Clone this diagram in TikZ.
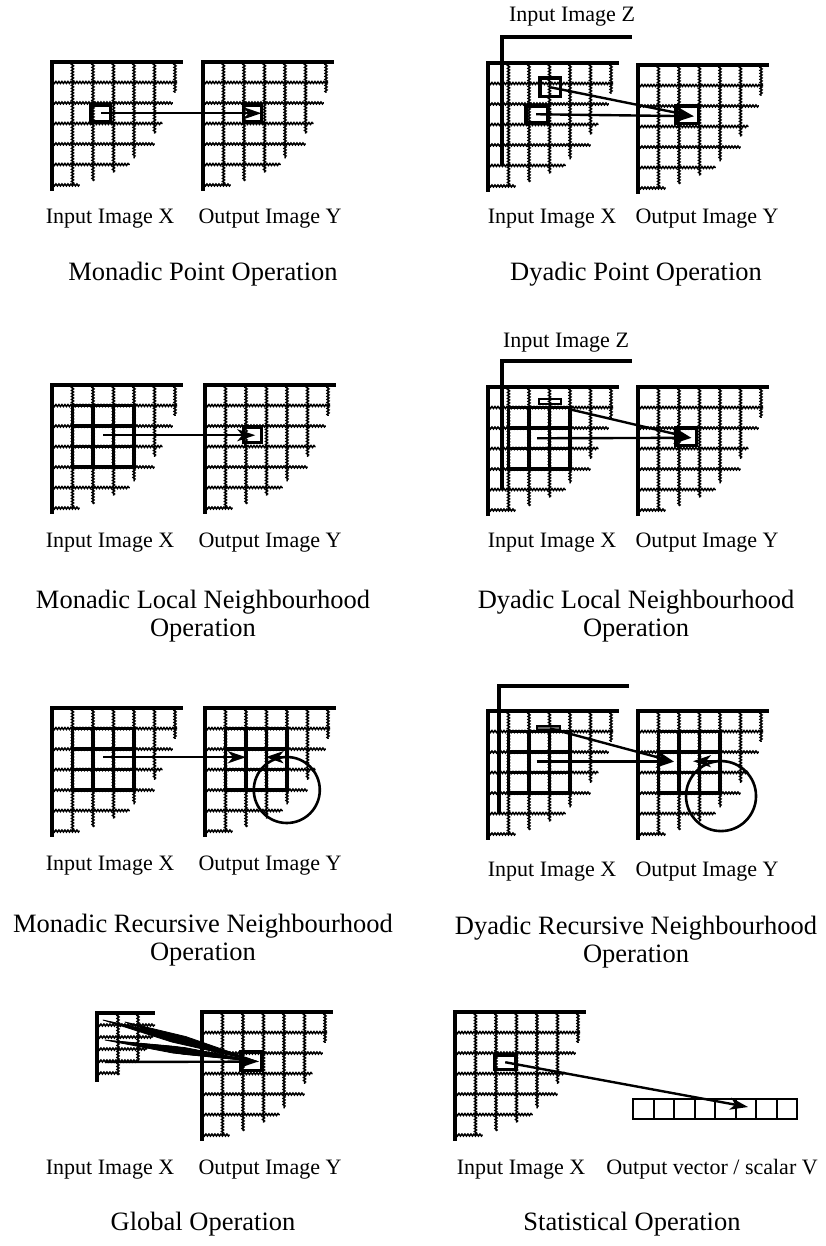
\documentclass[tikz,border=0pt]{standalone}
\usepackage{fontspec}
\setmainfont{Liberation Serif}
\usetikzlibrary{arrows.meta,decorations.pathmorphing,calc}
\tikzset{
 edge/.style={line width=3.2pt, line cap=rect},
 wavy/.style={line width=1.5pt, decorate, decoration={snake, amplitude=1pt, segment length=3pt}},
 nbh/.style={line width=3.6pt, line cap=rect},
 pix/.style={line width=3.2pt},
 vcell/.style={line width=2pt},
 arr/.style={line width=2.4pt, -{Stealth[length=18pt,width=12pt,inset=5pt]}},
 wedge/.style={fill=black, draw=black, line width=0.8pt, line join=round},
 lab/.style={anchor=base, font=\fontsize{22}{26}\selectfont, inner sep=0pt},
 tit/.style={anchor=base, font=\fontsize{26.5}{30}\selectfont, inner sep=0pt},
 cell/.style={x=20.5pt, y=-20.5pt},
}
\newcommand\imgrid{%
 \foreach \k/\e in {1/6.0,2/5.8,3/5.4,4/4.7,5/3.5,6/1.5} \draw[wavy] (\k,0) -- (\k,\e);
 \foreach \k/\e in {1/6.1,2/5.9,3/5.4,4/5.0,5/3.8,6/1.35} \draw[wavy] (0,\k) -- (\e,\k);
 \draw[edge] (0,6.2) -- (0,0) -- (6.3,0);
}
\newcommand\zframe{\draw[edge] (0,6.15) -- (0,0) -- (6.25,0);}
\newcommand\nbhd{%
 \draw[nbh] (1,1) rectangle (4,4);
 \draw[nbh] (2,1) -- (2,4) (3,1) -- (3,4) (1,2) -- (4,2) (1,3) -- (4,3);
}
\newcommand\wedgeto[2]{%
 \fill[wedge] (#1) -- ($(#1)!0.45!(#2)!3.4pt!90:(#2)$) -- (#2) -- ($(#1)!0.45!(#2)!3.4pt!-90:(#2)$) -- cycle;
}
\begin{document}
\begin{tikzpicture}[x=1pt,y=-1pt]
\useasboundingbox (0,0) rectangle (826,1246);
\fill[white] (0,0) rectangle (826,1246);

% ---------- Row 1 left: Monadic point ----------
\begin{scope}[shift={(52,62)}, cell]
 \imgrid
 \draw[pix] (1.9,2.1) rectangle (2.87,2.9);
 \coordinate (mpS) at (2.4,2.5);
\end{scope}
\begin{scope}[shift={(203,62)}, cell]
 \imgrid
 \draw[pix] (1.97,2.1) rectangle (2.87,2.9);
 \coordinate (mpT) at (2.85,2.5);
\end{scope}
\draw[arr] (mpS) -- (mpT);
\node[lab] (l1a) at (110,224) {Input Image X};
\node[lab] (l1b) at (270,224) {Output Image Y};
\node[tit] (t1) at (203,280) {Monadic Point Operation};

% ---------- Row 1 right: Dyadic point ----------
\begin{scope}[shift={(502,37)}, cell]
 \zframe
 \draw[pix] (1.85,2.0) rectangle (2.85,2.9);
 \coordinate (dpZ) at (2.35,2.45);
\end{scope}
\begin{scope}[shift={(488,63)}, cell]
 \imgrid
 \draw[pix] (1.85,2.1) rectangle (2.9,2.9);
 \coordinate (dpS) at (2.35,2.5);
\end{scope}
\begin{scope}[shift={(502,37)}, cell]
 \draw[edge] (0,6.15) -- (0,1.2);
\end{scope}
\begin{scope}[shift={(638,65)}, cell]
 \imgrid
 \draw[pix] (1.85,2.0) rectangle (2.95,2.85);
 \coordinate (dpT) at (2.72,2.5);
\end{scope}
\draw[arr] (dpS) -- (dpT);
\draw[arr] (dpZ) -- (dpT);
\node[lab] (z1) at (572,22) {Input Image Z};
\node[lab] (l2a) at (552,224) {Input Image X};
\node[lab] (l2b) at (707,224) {Output Image Y};
\node[tit] (t2) at (636,280) {Dyadic Point Operation};

% ---------- Row 2 left: Monadic local ----------
\begin{scope}[shift={(52,385)}, cell]
 \imgrid
 \nbhd
 \coordinate (mlS) at (2.5,2.45);
\end{scope}
\begin{scope}[shift={(205,385)}, cell]
 \imgrid
 \draw[pix] (1.87,2.05) rectangle (2.75,2.8);
 \coordinate (mlT) at (2.45,2.45);
\end{scope}
\draw[arr] (mlS) -- (mlT);
\node[lab] (l3a) at (110,547) {Input Image X};
\node[lab] (l3b) at (270,547) {Output Image Y};
\node[tit] (t3a) at (203,608) {Monadic Local Neighbourhood};
\node[tit] (t3b) at (203,636) {Operation};

% ---------- Row 2 right: Dyadic local ----------
\begin{scope}[shift={(502,361)}, cell]
 \zframe
\end{scope}
\begin{scope}[shift={(488,387)}, cell]
 \imgrid
 \draw[line width=2.2pt] (2.47,0.6) rectangle (3.55,0.83);
 \nbhd
 \coordinate (dlS) at (2.4,2.5);
 \coordinate (dlZ) at (4.0,1.09);
\end{scope}
\begin{scope}[shift={(502,361)}, cell]
 \draw[edge] (0,6.05) -- (0,1.27);
\end{scope}
\begin{scope}[shift={(638,387)}, cell]
 \imgrid
 \draw[pix] (1.85,2.0) rectangle (2.85,2.87);
 \coordinate (dlT) at (2.6,2.48);
\end{scope}
\draw[arr] (dlS) -- (dlT);
\draw[arr] (dlZ) -- (dlT);
\node[lab] (z2) at (566,347) {Input Image Z};
\node[lab] (l4a) at (552,547) {Input Image X};
\node[lab] (l4b) at (707,547) {Output Image Y};
\node[tit] (t4a) at (636,608) {Dyadic Local Neighbourhood};
\node[tit] (t4b) at (636,636) {Operation};

% ---------- Row 3 left: Monadic recursive ----------
\begin{scope}[shift={(52,708)}, cell]
 \imgrid
 \nbhd
 \coordinate (mrS) at (2.5,2.4);
\end{scope}
\begin{scope}[shift={(205,708)}, cell]
 \imgrid
 \nbhd
 \coordinate (mrT) at (2.0,2.4);
 \coordinate (mrC) at (3.99,2.4);
 \coordinate (mrU) at (2.95,2.4);
 \draw[line width=2.6pt] (3.99,4.0) circle[radius=33pt];
\end{scope}
\draw[arr] (mrS) -- (mrT);
\draw[arr] (mrC) -- (mrU);
\node[lab] (l5a) at (110,870) {Input Image X};
\node[lab] (l5b) at (270,870) {Output Image Y};
\node[tit] (t5a) at (203,932) {Monadic Recursive Neighbourhood};
\node[tit] (t5b) at (203,960) {Operation};

% ---------- Row 3 right: Dyadic recursive ----------
\begin{scope}[shift={(499,686)}, cell]
 \zframe
\end{scope}
\begin{scope}[shift={(488,711)}, cell]
 \imgrid
 \draw[line width=2.2pt, fill=black!60] (2.4,0.73) rectangle (3.5,0.94);
 \nbhd
 \coordinate (drS) at (2.37,2.47);
 \coordinate (drZ) at (3.02,0.85);
\end{scope}
\begin{scope}[shift={(499,686)}, cell]
 \draw[edge] (0,5.95) -- (0,1.22);
\end{scope}
\begin{scope}[shift={(638,711)}, cell]
 \imgrid
 \nbhd
 \coordinate (drT) at (1.75,2.47);
 \coordinate (drC) at (4.05,2.45);
 \coordinate (drU) at (2.68,2.45);
 \draw[line width=2.6pt] (4.05,4.15) circle[radius=35pt];
\end{scope}
\draw[arr] (drS) -- (drT);
\draw[arr] (drZ) -- (drT);
\draw[arr] (drC) -- (drU);
\node[lab] (l6a) at (552,876) {Input Image X};
\node[lab] (l6b) at (707,876) {Output Image Y};
\node[tit] (t6a) at (636,934) {Dyadic Recursive Neighbourhood};
\node[tit] (t6b) at (636,962) {Operation};

% ---------- Row 4 left: Global ----------
\begin{scope}[shift={(97,1013)}]
 \draw[wavy] (21,0) -- (21,62);
 \draw[wavy] (41,0) -- (41,48);
 \draw[wavy] (0,12) -- (58,12);
 \draw[wavy] (0,24) -- (56,24);
 \draw[wavy] (0,36) -- (50,36);
 \draw[wavy] (0,48) -- (42,48);
 \draw[wavy] (0,60) -- (22,60);
 \draw[edge] (0,67) -- (0,0) -- (56,0);
 \coordinate (g1) at (6,7);
 \coordinate (g2) at (28,9);
 \coordinate (g3) at (8,27);
 \coordinate (g4) at (26,29);
 \coordinate (g5) at (8,49);
\end{scope}
\begin{scope}[shift={(202,1012)}, cell]
 \imgrid
 \draw[pix] (1.9,1.95) rectangle (2.9,2.85);
 \coordinate (gT) at (2.73,2.42);
\end{scope}
\wedgeto{g1}{gT}
\wedgeto{g2}{gT}
\wedgeto{g3}{gT}
\wedgeto{g4}{gT}
\draw[arr] (g5) -- (gT);
\node[lab] (l7a) at (110,1174) {Input Image X};
\node[lab] (l7b) at (270,1174) {Output Image Y};
\node[tit] (t7) at (203,1230) {Global Operation};

% ---------- Row 4 right: Statistical ----------
\begin{scope}[shift={(455,1012)}, cell]
 \imgrid
 \draw[pix] (1.94,2.1) rectangle (2.98,2.8);
 \coordinate (stS) at (2.45,2.45);
\end{scope}
\foreach \i in {0,...,7} \draw[vcell] (633+20.5*\i,1099) rectangle (653.5+20.5*\i,1119);
\coordinate (stT) at (748,1107);
\draw[arr] (stS) -- (stT);
\node[lab] (l8a) at (521,1174) {Input Image X};
\node[lab] (l8b) at (712,1174) {Output vector / scalar V};
\node[tit] (t8) at (632,1230) {Statistical Operation};
\end{tikzpicture}
\end{document}
